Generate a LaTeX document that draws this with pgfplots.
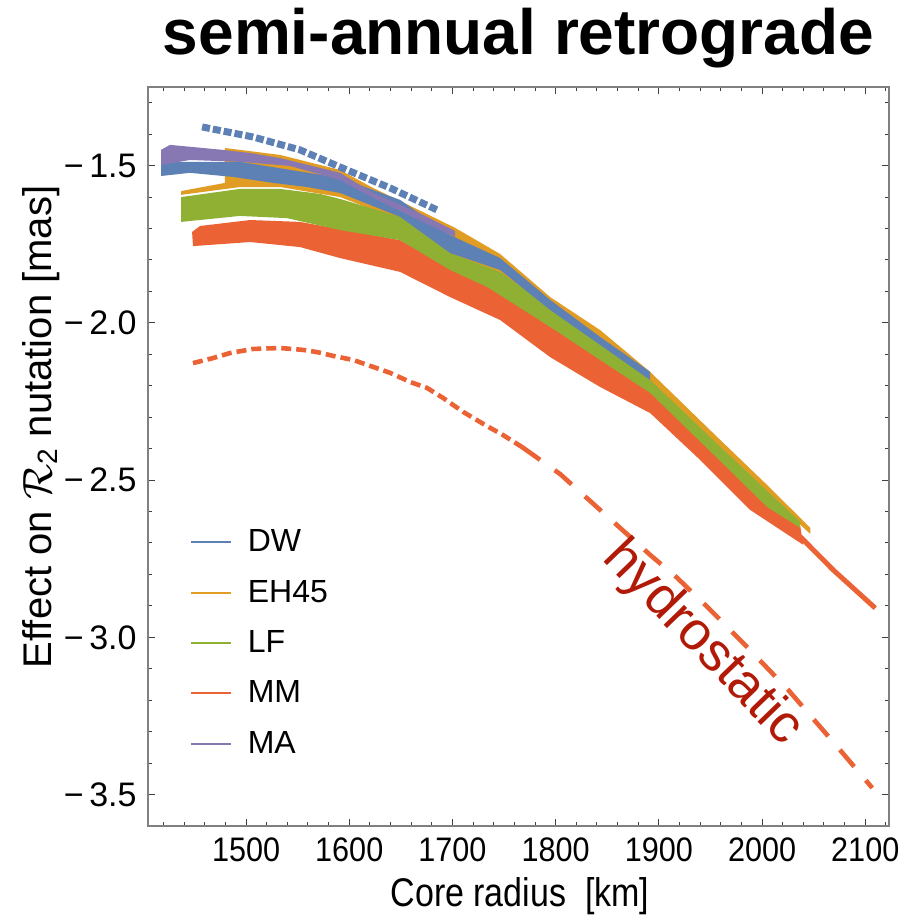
\documentclass[border=0pt]{standalone}
\usepackage{pgfplots}
\pgfplotsset{compat=1.18}
\usepackage{fontspec}
\setmainfont{Liberation Sans}
\usepackage{graphicx}

\definecolor{cDW}{RGB}{94,129,181}
\definecolor{cEH}{RGB}{225,156,36}
\definecolor{cLF}{RGB}{143,176,50}
\definecolor{cMM}{RGB}{235,98,53}
\definecolor{cMA}{RGB}{135,120,179}
\definecolor{cHyd}{RGB}{178,26,8}

\newcommand{\nx}[1]{\scalebox{0.9}[1]{#1}}

\begin{document}
\begin{tikzpicture}
\begin{axis}[
  width=370.5pt, height=369.5pt, scale only axis,
  xmin=1405, xmax=2123, ymin=-3.6, ymax=-1.25,
  axis line style={black!50, line width=0.6pt},
  tick align=inside,
  major tick length=3.5pt, minor tick length=2pt,
  tick style={black!75, line width=0.5pt},
  xtick={1500,1600,1700,1800,1900,2000,2100},
  xticklabels={\nx{1500},\nx{1600},\nx{1700},\nx{1800},\nx{1900},\nx{2000},\nx{2100}},
  minor xtick={1420,1440,...,2120},
  ytick={-3.5,-3,-2.5,-2,-1.5},
  yticklabels={−\,3.5,−\,3.0,−\,2.5,−\,2.0,−\,1.5},
  minor ytick={-3.6,-3.4,-3.3,-3.2,-3.1,-2.9,-2.8,-2.7,-2.6,-2.4,-2.3,-2.2,-2.1,-1.9,-1.8,-1.7,-1.6,-1.4,-1.3},
  tick label style={font=\fontsize{17}{20}\selectfont},
  xticklabel style={anchor=base, yshift=-18pt},
  yticklabel style={anchor=east, inner sep=0pt, xshift=-5.5pt},
  title={semi-annual retrograde},
  title style={at={(axis description cs:0.5,1.028)}, anchor=base, font=\bfseries\fontsize{32}{36}\selectfont},
  xlabel={\scalebox{0.85}[1]{Core radius\ \ [km]}},
  xlabel style={at={(axis description cs:0.502,-0.1096)}, anchor=base, font=\fontsize{20}{24}\selectfont},
  ylabel={Effect on $\mathcal{R}$\textsubscript{2} nutation [mas]},
  ylabel style={at={(axis description cs:-0.13,0.54)}, anchor=base, font=\fontsize{20}{24}\selectfont},
  legend cell align=left,
  legend style={at={(axis description cs:0.0567,0.407)}, anchor=north west, draw=none, fill=none,
    font=\fontsize{16}{19}\selectfont, row sep=8.7pt, inner sep=0pt},
  legend image code/.code={\draw[#1, line width=1pt] (0pt,0pt) -- (20pt,0pt); \path (26pt,0pt);},
]

\addlegendimage{cDW}\addlegendentry{DW}
\addlegendimage{cEH}\addlegendentry{EH45}
\addlegendimage{cLF}\addlegendentry{LF}
\addlegendimage{cMM}\addlegendentry{MM}
\addlegendimage{cMA}\addlegendentry{MA}

% MM band
\addplot[fill=cMM, draw=none, forget plot] coordinates {
  (1447.7,-1.711) (1455.4,-1.692) (1503.9,-1.673) (1552.3,-1.679) (1591.1,-1.702)
  (1649.3,-1.737) (1697.7,-1.826) (1746.2,-1.902) (1794.7,-2.013) (1843.1,-2.064)
  (1891.6,-2.182) (1940.0,-2.341) (1988.5,-2.516) (2037.0,-2.646)
  (2039.9,-2.706) (1988.5,-2.595) (1940.0,-2.436) (1891.6,-2.287) (1843.1,-2.204)
  (1794.7,-2.109) (1746.2,-1.991) (1697.7,-1.918) (1649.3,-1.838) (1591.1,-1.794)
  (1552.3,-1.759) (1503.9,-1.743) (1448.6,-1.756)
} -- cycle;
% MM tail
\addplot[cMM, line width=2.5pt, forget plot] coordinates {
  (2037.0,-2.680) (2069.0,-2.786) (2109.7,-2.907)
};

% EH45 band
\addplot[fill=cEH, draw=none, forget plot] coordinates {
  (1479.6,-1.444) (1533.0,-1.466) (1591.1,-1.514) (1623.1,-1.571) (1671.6,-1.648)
  (1702.6,-1.698) (1746.2,-1.781) (1794.7,-1.918) (1843.1,-2.023) (1891.6,-2.156)
  (1956.5,-2.363) (2005.0,-2.516) (2046.7,-2.652)
  (2046.7,-2.671) (2005.0,-2.547) (1956.5,-2.404) (1891.6,-2.207) (1843.1,-2.054)
  (1794.7,-1.959) (1746.2,-1.848) (1702.6,-1.794) (1649.3,-1.673) (1591.1,-1.600)
  (1533.0,-1.568) (1494.2,-1.568) (1437.0,-1.593) (1437.0,-1.581) (1479.6,-1.555)
} -- cycle;

% LF band
\addplot[fill=cLF, draw=none, forget plot] coordinates {
  (1437.0,-1.600) (1494.2,-1.574) (1533.0,-1.574) (1571.7,-1.590) (1591.1,-1.606)
  (1649.3,-1.663) (1697.7,-1.778) (1746.2,-1.838) (1794.7,-1.953) (1843.1,-2.064)
  (1891.6,-2.182) (1956.5,-2.385) (2005.0,-2.535) (2037.0,-2.633)
  (2037.0,-2.652) (2005.0,-2.586) (1956.5,-2.430) (1891.6,-2.223) (1843.1,-2.118)
  (1794.7,-2.013) (1733.6,-1.886) (1697.7,-1.832) (1649.3,-1.737) (1591.1,-1.705)
  (1539.7,-1.667) (1494.2,-1.660) (1437.0,-1.679)
} -- cycle;

% DW band
\addplot[fill=cDW, draw=none, forget plot] coordinates {
  (1417.6,-1.488) (1494.2,-1.488) (1591.1,-1.539) (1649.3,-1.609) (1697.7,-1.721)
  (1746.2,-1.794) (1794.7,-1.927) (1843.1,-2.045) (1891.6,-2.156)
  (1891.6,-2.182) (1843.1,-2.070) (1794.7,-1.959) (1746.2,-1.832) (1697.7,-1.778)
  (1649.3,-1.663) (1591.1,-1.587) (1559.1,-1.568) (1526.2,-1.555) (1487.4,-1.536)
  (1445.7,-1.523) (1417.6,-1.533)
} -- cycle;

% MA band
\addplot[fill=cMA, draw=none, forget plot] coordinates {
  (1417.6,-1.450) (1426.3,-1.434) (1477.7,-1.450) (1503.9,-1.460) (1533.0,-1.476)
  (1591.1,-1.523) (1623.1,-1.587) (1671.6,-1.657) (1702.6,-1.708)
  (1702.6,-1.727) (1671.6,-1.679) (1623.1,-1.603) (1591.1,-1.546) (1542.6,-1.501)
  (1494.2,-1.488) (1445.7,-1.482) (1417.6,-1.498)
} -- cycle;

% DW upper dotted branch
\addplot[cDW, line width=3.5pt, dash pattern=on 4pt off 1.5pt, forget plot] coordinates {
  (1457.4,-1.377) (1506.8,-1.409) (1552.3,-1.450) (1597.9,-1.514) (1639.6,-1.571) (1685.1,-1.641)
};

% hydrostatic (MM)
\addplot[cMM, line width=2.3pt, dash pattern=on 5pt off 2.5pt, forget plot] coordinates {
  (1448.6,-2.128) (1468.0,-2.112) (1484.5,-2.096) (1506.8,-2.083) (1533.0,-2.080)
  (1555.2,-2.086) (1568.8,-2.093) (1584.3,-2.105) (1603.7,-2.118) (1623.1,-2.140)
  (1639.6,-2.159) (1659.0,-2.188) (1675.4,-2.207) (1691.0,-2.239) (1710.3,-2.283)
  (1731.7,-2.325) (1749.1,-2.357) (1767.5,-2.395)
};
\addplot[cMM, line width=2.3pt, dash pattern=on 11pt off 9pt, forget plot] coordinates {
  (1767.5,-2.395) (1804.4,-2.481) (1843.1,-2.595) (1891.6,-2.738) (1917.8,-2.811)
  (1946.8,-2.903) (1981.7,-3.018) (2025.3,-3.167) (2069.0,-3.333) (2106.8,-3.479)
};

\node[rotate=-46, text=cHyd, font=\fontsize{27}{30}\selectfont] at (axis cs:1942,-3.02) {hydrostatic};

\coordinate (bbl) at (rel axis cs:-0.19973,-0.12179);
\coordinate (btr) at (rel axis cs:1.02159,1.11773);
\end{axis}
\pgfresetboundingbox
\path[use as bounding box] (bbl) rectangle (btr);
\end{tikzpicture}
\end{document}
